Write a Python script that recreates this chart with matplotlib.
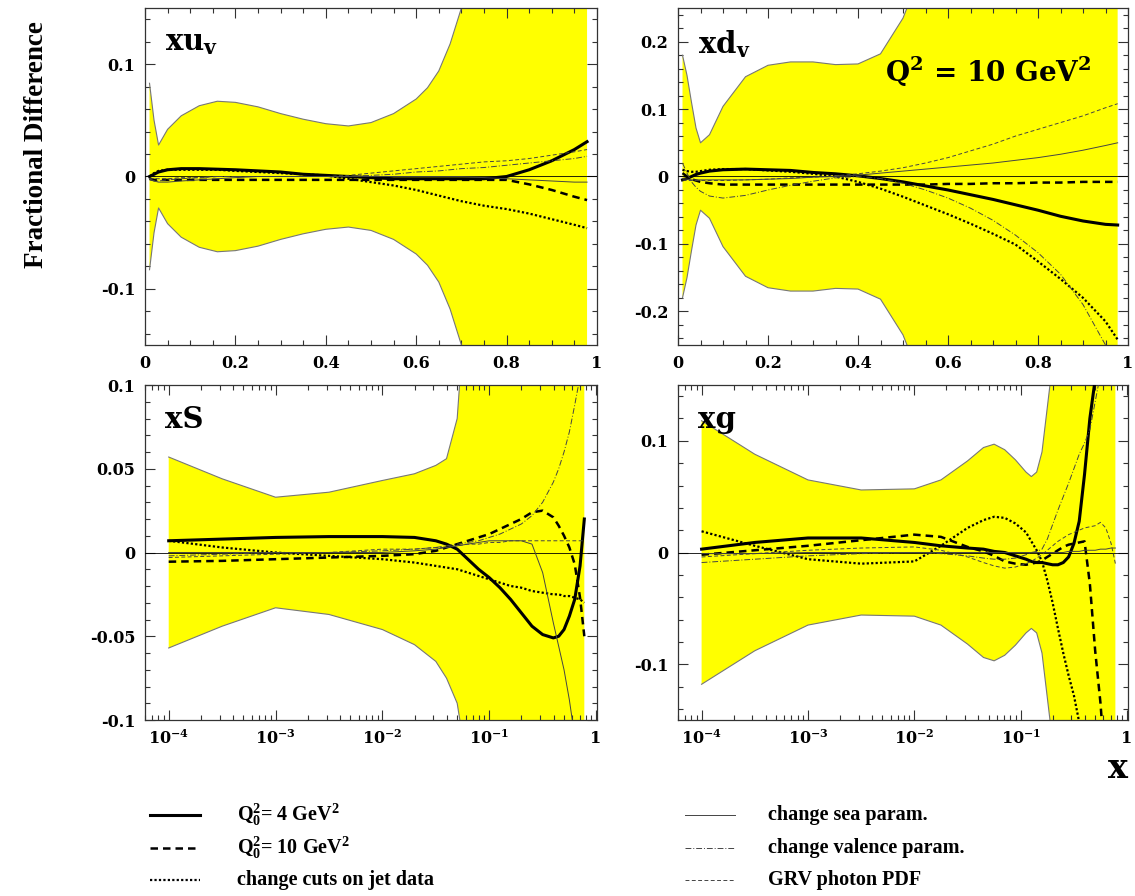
import numpy as np
import matplotlib
matplotlib.use("Agg")
import matplotlib.pyplot as plt
from matplotlib.lines import Line2D
from matplotlib.ticker import FixedLocator, MultipleLocator, FuncFormatter, LogLocator, NullFormatter

plt.rcParams['axes.unicode_minus'] = False
plt.rcParams['mathtext.fontset'] = 'custom'
plt.rcParams['mathtext.rm'] = 'Liberation Serif:bold'
plt.rcParams['mathtext.it'] = 'Liberation Serif:bold'
plt.rcParams['mathtext.bf'] = 'Liberation Serif:bold'

# ---------------- data: panel xu_v (linear x) ----------------
uv_x = [0.01, 0.02, 0.03, 0.05, 0.08, 0.12, 0.16, 0.2, 0.25, 0.3, 0.35, 0.4, 0.45, 0.5,
        0.55, 0.6, 0.625, 0.65, 0.675, 0.7, 0.75, 0.8, 0.85, 0.9, 0.95, 0.978]
uv_band = [0.083, 0.05, 0.028, 0.042, 0.054, 0.063, 0.067, 0.066, 0.062, 0.056, 0.051, 0.047,
           0.045, 0.048, 0.056, 0.069, 0.079, 0.094, 0.118, 0.15, 0.23, 0.32, 0.42, 0.52, 0.62,
           0.68]
uv_q4 = [0.0, 0.002, 0.004, 0.006, 0.007, 0.007, 0.0065, 0.006, 0.005, 0.004, 0.002, 0.001,
         0.0, -0.001, -0.002, -0.002, -0.002, -0.002, -0.002, -0.002, -0.002, 0.0, 0.006, 0.014,
         0.024, 0.031]
uv_q10 = [-0.002, -0.003, -0.003, -0.003, -0.003, -0.003, -0.003, -0.003, -0.003, -0.003, -0.003,
          -0.003, -0.003, -0.003, -0.003, -0.003, -0.003, -0.003, -0.003, -0.003, -0.003, -0.003,
          -0.007, -0.012, -0.018, -0.021]
uv_cuts = [0.0, 0.003, 0.005, 0.006, 0.006, 0.006, 0.006, 0.005, 0.004, 0.003, 0.002, 0.001,
           -0.002, -0.005, -0.008, -0.012, -0.0145, -0.017, -0.0195, -0.022, -0.026, -0.029,
           -0.033, -0.038, -0.043, -0.046]
uv_sea = [-0.002, -0.004, -0.005, -0.005, -0.004, -0.003, -0.002, -0.001, 0.0, 0.0, 0.0, 0.0,
          0.0, 0.0, 0.0, 0.0, 0.0, 0.0, 0.0, 0.0, -0.001, -0.002, -0.003, -0.004, -0.005, -0.005]
uv_val = [-0.003, -0.004, -0.004, -0.003, -0.002, -0.001, 0.0, 0.0, 0.0, 0.0, 0.0, 0.0, 0.0,
          0.001, 0.002, 0.004, 0.0045, 0.005, 0.006, 0.007, 0.008, 0.01, 0.012, 0.014, 0.016,
          0.018]
uv_grv = [-0.002, -0.002, -0.002, -0.002, -0.001, -0.001, 0.0, 0.0, 0.0, 0.0, 0.0, 0.0, 0.001,
          0.003, 0.005, 0.007, 0.008, 0.009, 0.010, 0.011, 0.013, 0.014, 0.016, 0.019, 0.022,
          0.024]

# ---------------- data: panel xd_v (linear x) ----------------
dv_x = [0.01, 0.02, 0.03, 0.04, 0.05, 0.07, 0.1, 0.15, 0.2, 0.25, 0.3, 0.35, 0.4, 0.45, 0.5,
        0.55, 0.6, 0.65, 0.7, 0.75, 0.8, 0.85, 0.9, 0.95, 0.977]
dv_band = [0.18, 0.15, 0.11, 0.072, 0.05, 0.062, 0.104, 0.148, 0.165, 0.17, 0.17, 0.166, 0.167,
           0.182, 0.235, 0.32, 0.4, 0.48, 0.56, 0.64, 0.72, 0.8, 0.88, 0.96, 1.0]
dv_q4 = [-0.005, -0.003, 0.0, 0.003, 0.005, 0.008, 0.01, 0.011, 0.01, 0.009, 0.006, 0.004, 0.001,
         -0.003, -0.008, -0.014, -0.02, -0.027, -0.034, -0.042, -0.05, -0.059, -0.066, -0.071,
         -0.072]
dv_q10 = [0.005, 0.0, -0.004, -0.006, -0.008, -0.01, -0.012, -0.012, -0.012, -0.012, -0.012,
          -0.012, -0.012, -0.012, -0.012, -0.012, -0.011, -0.011, -0.01, -0.01, -0.009, -0.009,
          -0.008, -0.008, -0.008]
dv_cuts = [0.01, 0.008, 0.007, 0.007, 0.008, 0.01, 0.011, 0.011, 0.009, 0.007, 0.004, 0.0,
           -0.008, -0.018, -0.03, -0.043, -0.056, -0.07, -0.085, -0.101, -0.126, -0.152, -0.18,
           -0.215, -0.242]
dv_sea = [-0.003, -0.004, -0.005, -0.005, -0.005, -0.005, -0.005, -0.005, -0.004, -0.003,
          -0.001, 0.0, 0.002, 0.005, 0.008, 0.011, 0.014, 0.017, 0.02, 0.024, 0.028, 0.033,
          0.039, 0.046, 0.05]
dv_val = [0.02, 0.005, -0.008, -0.016, -0.022, -0.029, -0.032, -0.028, -0.02, -0.013, -0.007,
          -0.002, 0.0, -0.003, -0.01, -0.02, -0.032, -0.047, -0.065, -0.087, -0.113, -0.145,
          -0.19, -0.25, -0.28]
dv_grv = [-0.005, -0.006, -0.006, -0.006, -0.006, -0.006, -0.006, -0.005, -0.004, -0.002,
          -0.001, 0.001, 0.004, 0.008, 0.013, 0.02, 0.028, 0.038, 0.048, 0.06, 0.07, 0.08, 0.09,
          0.102, 0.108]

# ---------------- data: panel xS (log x, exponents of 10) ----------------
s_exp = [-4, -3.5, -3, -2.5, -2, -1.7, -1.5, -1.4, -1.3, -1.2, -1.1, -1.0, -0.9, -0.8, -0.7,
         -0.6, -0.5, -0.4, -0.35, -0.3, -0.25, -0.2, -0.15, -0.11]
s_band_hi = [0.057, 0.044, 0.033, 0.036, 0.043, 0.047, 0.052, 0.056, 0.08, 0.17, 0.3, 0.45,
             0.6, 0.8, 1.0, 1.2, 1.4, 1.6, 1.7, 1.8, 1.9, 2.0, 2.1, 2.2]
s_band_lo = [-0.057, -0.044, -0.033, -0.037, -0.046, -0.055, -0.065, -0.075, -0.09, -0.13,
             -0.25, -0.4, -0.55, -0.7, -0.9, -1.1, -1.3, -1.5, -1.6, -1.7, -1.8, -1.9, -2.0,
             -2.1]
s_q4 = [0.007, 0.008, 0.009, 0.0095, 0.0095, 0.009, 0.007, 0.005, 0.002, -0.004, -0.01,
        -0.015, -0.021, -0.028, -0.036, -0.044, -0.049, -0.051, -0.05, -0.046, -0.038, -0.028,
        -0.008, 0.02]
s_q10 = [-0.0055, -0.005, -0.004, -0.003, -0.002, -0.001, 0.001, 0.003, 0.005, 0.007, 0.009,
         0.011, 0.014, 0.017, 0.02, 0.024, 0.025, 0.021, 0.016, 0.01, 0.003, -0.007, -0.027,
         -0.05]
s_cuts = [0.007, 0.003, 0.0, -0.002, -0.004, -0.006, -0.008, -0.009, -0.01, -0.012, -0.014,
          -0.016, -0.018, -0.02, -0.021, -0.023, -0.024, -0.025, -0.025, -0.026, -0.026,
          -0.027, -0.028, -0.03]
s_sea = [0.0, 0.0, 0.0, 0.0, 0.0, 0.001, 0.002, 0.003, 0.004, 0.005, 0.006, 0.007, 0.007, 0.007,
         0.007, 0.005, -0.012, -0.042, -0.056, -0.07, -0.088, -0.11, -0.14, -0.17]
s_val = [-0.002, -0.001, 0.0, 0.0, 0.001, 0.002, 0.003, 0.004, 0.005, 0.006, 0.007, 0.009,
         0.011, 0.014, 0.017, 0.022, 0.03, 0.042, 0.05, 0.06, 0.072, 0.088, 0.105, 0.12]
s_grv = [-0.003, -0.002, -0.001, 0.0, 0.002, 0.002, 0.003, 0.003, 0.004, 0.005, 0.005, 0.006,
         0.006, 0.007, 0.007, 0.007, 0.007, 0.007, 0.007, 0.007, 0.007, 0.007, 0.007, 0.007]

# ---------------- data: panel xg (log x, exponents of 10) ----------------
g_exp = [-4, -3.5, -3, -2.5, -2, -1.75, -1.5, -1.35, -1.25, -1.15, -1.05, -0.95, -0.9, -0.85,
         -0.8, -0.75, -0.7, -0.65, -0.6, -0.55, -0.5, -0.45, -0.4, -0.35, -0.3, -0.25, -0.2,
         -0.15, -0.11]
g_band = [0.118, 0.088, 0.065, 0.056, 0.057, 0.065, 0.082, 0.094, 0.097, 0.092, 0.083, 0.072,
          0.068, 0.072, 0.09, 0.13, 0.17, 0.25, 0.35, 0.45, 0.55, 0.65, 0.75, 0.85, 0.95, 1.05,
          1.15, 1.25, 1.3]
g_q4 = [0.003, 0.009, 0.013, 0.013, 0.009, 0.006, 0.004, 0.003, 0.001, 0.0, -0.003, -0.006,
        -0.008, -0.009, -0.009, -0.01, -0.011, -0.011, -0.009, -0.004, 0.008, 0.028, 0.07, 0.12,
        0.155, 0.2, 0.26, 0.32, 0.37]
g_q10 = [-0.002, 0.002, 0.006, 0.011, 0.016, 0.014, 0.005, 0.001, -0.003, -0.008, -0.01, -0.011,
         -0.01, -0.009, -0.007, -0.004, -0.001, 0.002, 0.005, 0.007, 0.008, 0.009, 0.01, -0.028,
         -0.088, -0.135, -0.2, -0.3, -0.4]
g_cuts = [0.019, 0.006, -0.006, -0.01, -0.008, 0.006, 0.022, 0.029, 0.032, 0.031, 0.026, 0.018,
          0.01, 0.002, -0.008, -0.025, -0.045, -0.068, -0.09, -0.11, -0.128, -0.152, -0.18,
          -0.22, -0.26, -0.3, -0.34, -0.38, -0.42]
g_sea = [-0.001, -0.001, 0.0, 0.0, 0.0, 0.0, 0.0, 0.0, 0.0, 0.0, 0.0, 0.0, 0.0, 0.0, 0.0, 0.0,
         0.0, 0.0, 0.0, 0.001, 0.001, 0.001, 0.002, 0.002, 0.002, 0.003, 0.003, 0.004, 0.004]
g_val = [-0.009, -0.006, -0.003, -0.001, 0.0, -0.001, -0.003, -0.005, -0.006, -0.006, -0.005,
         -0.002, 0.0, 0.001, 0.003, 0.012, 0.025, 0.038, 0.05, 0.062, 0.075, 0.088, 0.098, 0.11,
         0.135, 0.16, 0.19, 0.22, 0.24]
g_grv = [-0.004, -0.001, 0.002, 0.004, 0.005, 0.002, -0.004, -0.009, -0.012, -0.014, -0.013,
         -0.01, -0.008, -0.005, -0.002, 0.002, 0.006, 0.01, 0.013, 0.016, 0.018, 0.02, 0.022,
         0.023, 0.024, 0.027, 0.022, 0.008, -0.01]

legend_labels = [r"Q$_{0}^{2}$= 4 GeV$^{2}$", r"Q$_{0}^{2}$= 10 GeV$^{2}$",
                 "change cuts on jet data", "change sea param.",
                 "change valence param.", "GRV photon PDF"]
panel_labels = [r"xu$_\mathbf{v}$", r"xd$_\mathbf{v}$", "xS", "xg"]

# ---------------- styles ----------------
YELLOW = "#FFFF00"
EDGE = "#777777"
styles = [
    dict(color="black", lw=2.2, ls="-"),
    dict(color="black", lw=1.8, dashes=(3.0, 2.0)),
    dict(color="black", lw=1.6, dashes=(1.0, 1.0)),
    dict(color="#444444", lw=0.7, ls="-"),
    dict(color="#444444", lw=0.7, dashes=(6, 2, 1, 2)),
    dict(color="#444444", lw=0.7, dashes=(4, 2.5)),
]

W, H = 1135, 896
fig = plt.figure(figsize=(W / 100, H / 100), dpi=100)


def ax_at(l, t, r, b):
    return fig.add_axes([l / W, 1 - b / H, (r - l) / W, (b - t) / H])


ax1 = ax_at(145, 8, 597, 345)
ax2 = ax_at(678, 8, 1128, 345)
ax3 = ax_at(145, 385, 597, 720)
ax4 = ax_at(678, 385, 1128, 720)


def draw(ax, x, lo, hi, curves):
    ax.fill_between(x, lo, hi, color=YELLOW, lw=0, zorder=1)
    ax.plot(x, hi, color=EDGE, lw=0.8, zorder=2)
    ax.plot(x, lo, color=EDGE, lw=0.8, zorder=2)
    ax.axhline(0, color="black", lw=0.6, zorder=3)
    for y, st in zip(curves, styles):
        ax.plot(x, y, zorder=4, **st)
    ax.tick_params(which="both", direction="in", top=True, right=True, width=0.8,
                   colors="#333333", labelcolor="black", pad=7)
    ax.tick_params(which="major", length=7)
    ax.tick_params(which="minor", length=3.5)
    for sp in ax.spines.values():
        sp.set_linewidth(0.9)
        sp.set_color("#333333")


def fmt_g(v, pos):
    return "%g" % v


# Panel 1
draw(ax1, uv_x, [-v for v in uv_band], uv_band, [uv_q4, uv_q10, uv_cuts, uv_sea, uv_val, uv_grv])
ax1.set_xlim(0, 1)
ax1.set_ylim(-0.15, 0.15)
ax1.yaxis.set_major_locator(FixedLocator([-0.1, 0, 0.1]))
ax1.yaxis.set_minor_locator(MultipleLocator(0.02))
ax1.xaxis.set_major_locator(MultipleLocator(0.2))
ax1.xaxis.set_minor_locator(MultipleLocator(0.05))

# Panel 2
draw(ax2, dv_x, [-v for v in dv_band], dv_band, [dv_q4, dv_q10, dv_cuts, dv_sea, dv_val, dv_grv])
ax2.set_xlim(0, 1)
ax2.set_ylim(-0.25, 0.25)
ax2.yaxis.set_major_locator(FixedLocator([-0.2, -0.1, 0, 0.1, 0.2]))
ax2.yaxis.set_minor_locator(MultipleLocator(0.02))
ax2.xaxis.set_major_locator(MultipleLocator(0.2))
ax2.xaxis.set_minor_locator(MultipleLocator(0.05))

# Panel 3
s_x = [10.0 ** e for e in s_exp]
draw(ax3, s_x, s_band_lo, s_band_hi, [s_q4, s_q10, s_cuts, s_sea, s_val, s_grv])
ax3.set_ylim(-0.1, 0.1)
ax3.yaxis.set_major_locator(FixedLocator([-0.1, -0.05, 0, 0.05, 0.1]))
ax3.yaxis.set_minor_locator(MultipleLocator(0.01))

# Panel 4
g_x = [10.0 ** e for e in g_exp]
draw(ax4, g_x, [-v for v in g_band], g_band, [g_q4, g_q10, g_cuts, g_sea, g_val, g_grv])
ax4.set_ylim(-0.15, 0.15)
ax4.yaxis.set_major_locator(FixedLocator([-0.1, 0, 0.1]))
ax4.yaxis.set_minor_locator(MultipleLocator(0.02))


def fmt_log(v, pos):
    e = int(round(np.log10(v)))
    if e == 0:
        return "1"
    return r"$\mathbf{10^{%d}}$" % e


for ax in (ax3, ax4):
    ax.set_xscale("log")
    ax.set_xlim(6e-5, 1.02)
    ax.xaxis.set_major_locator(LogLocator(base=10, numticks=10))
    ax.xaxis.set_minor_locator(LogLocator(base=10, subs=np.arange(2, 10), numticks=20))
    ax.xaxis.set_minor_formatter(NullFormatter())
    ax.xaxis.set_major_formatter(FuncFormatter(fmt_log))

for ax in (ax1, ax2, ax3, ax4):
    ax.yaxis.set_major_formatter(FuncFormatter(fmt_g))
    if ax in (ax1, ax2):
        ax.xaxis.set_major_formatter(FuncFormatter(fmt_g))
    for lab in ax.get_xticklabels() + ax.get_yticklabels():
        lab.set_fontfamily("DejaVu Serif")
        lab.set_fontweight("bold")
        lab.set_fontsize(11.5)
        lab.set_math_fontfamily("dejavuserif")

# panel labels
for ax, lab in zip((ax1, ax2, ax3, ax4), panel_labels):
    ax.text(0.045, 0.94, lab, transform=ax.transAxes, ha="left", va="top",
            fontfamily="DejaVu Serif", fontweight="bold", fontsize=21,
            math_fontfamily="dejavuserif", zorder=6)

ax2.text(0.46, 0.81, r"Q$^\mathbf{2}$ = 10 GeV$^\mathbf{2}$", transform=ax2.transAxes,
         ha="left", va="center", fontfamily="DejaVu Serif", fontweight="bold", fontsize=20,
         math_fontfamily="dejavuserif", zorder=6)

# y label
fig.text(37 / W, 1 - 145 / H, "Fractional Difference", rotation=90, ha="center", va="center",
         fontfamily="Liberation Serif", fontweight="bold", fontsize=19.5)

# x label
fig.text(1118 / W, 1 - 768 / H, "x", ha="center", va="center", fontfamily="DejaVu Serif",
         fontweight="bold", fontsize=24)

# legend (manual)
rows = [815, 848, 880]
cols = [(150, 200, 237), (685, 735, 768)]
k = 0
for (x0, x1, xt) in cols:
    for yr in rows:
        st = styles[k]
        fig.add_artist(Line2D([x0 / W, x1 / W], [1 - yr / H, 1 - yr / H],
                              transform=fig.transFigure, **st))
        fig.text(xt / W, 1 - yr / H, legend_labels[k], ha="left", va="center",
                 fontfamily="Liberation Serif", fontweight="bold", fontsize=14.5)
        k += 1

fig.savefig("out.png", dpi=100)
